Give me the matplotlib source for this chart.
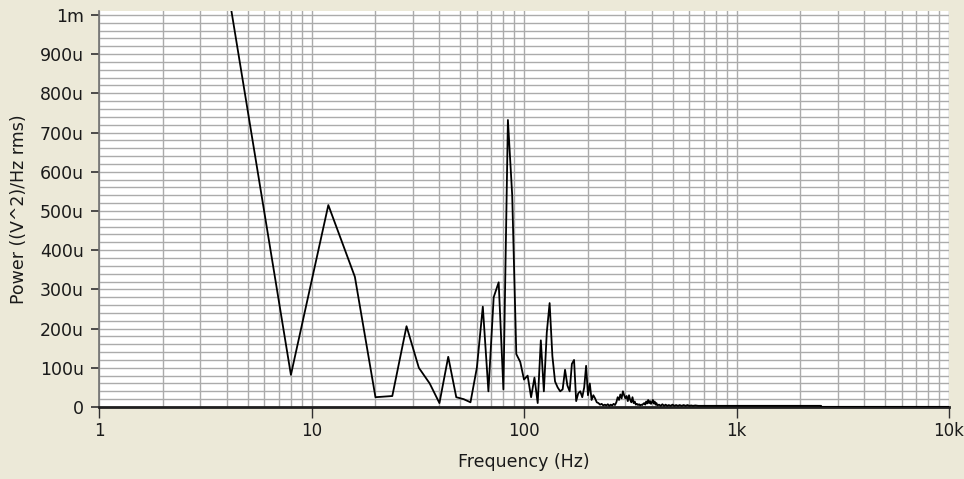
import matplotlib
matplotlib.use("Agg")
import matplotlib.pyplot as plt
from matplotlib.ticker import FixedLocator, LogLocator, NullFormatter

# ---- data (power in micro-units, V^2/Hz rms) ----
freq_low = [4, 8, 12, 16, 20, 24, 28, 32, 36, 40, 44, 48, 52, 56, 60, 64, 68, 72,
            76, 80, 84, 88, 92, 96, 100, 104, 108, 112, 116, 120, 124, 128, 132,
            136, 140, 144, 148, 152, 156, 160, 164, 168, 172, 176, 180, 184, 188,
            192, 196, 200]
power_low = [1080, 82, 515, 332, 25, 28, 206, 100, 60, 10, 128, 25, 20, 12, 100,
             256, 40, 280, 318, 45, 732, 540, 135, 115, 70, 80, 25, 75, 10, 170,
             40, 190, 265, 130, 65, 50, 40, 45, 95, 55, 40, 110, 120, 15, 35, 40,
             25, 50, 105, 30]

freq_mid = [204, 208, 212, 216, 220, 224, 228, 232, 236, 240, 244, 248, 252, 256,
            260, 264, 268, 272, 276, 280, 284, 288, 292, 296, 300, 304, 308, 312,
            316, 320, 324, 328, 332, 336, 340, 344, 348, 352, 356, 360, 364, 368,
            372, 376, 380, 384, 388, 392, 396, 400, 404, 408, 412, 416, 420, 424,
            432, 440, 448, 456, 464, 472, 480, 490, 500, 510, 520, 530, 540, 552,
            564, 576, 588, 600, 612, 624, 640, 660]
power_mid = [60, 18, 30, 22, 12, 10, 6, 8, 4, 6, 4, 7, 3, 6, 4, 8, 5, 12, 25, 18,
             32, 22, 40, 30, 22, 28, 15, 30, 18, 12, 25, 10, 14, 6, 8, 5, 7, 4, 6,
             5, 8, 10, 6, 14, 9, 18, 10, 15, 8, 12, 18, 9, 14, 6, 10, 4,
             6, 3, 7, 3, 6, 3, 5, 3, 6, 3, 5, 3, 5, 3, 5, 3, 5, 3, 4, 3, 4, 3]

freq_tail = [700, 1000, 2500, 2510, 10000]
power_tail = [3, 3, 3, 0.4, 0.4]

ytick_values = [0, 100, 200, 300, 400, 500, 600, 700, 800, 900, 1000]
ytick_labels = ["0", "100u", "200u", "300u", "400u", "500u", "600u", "700u",
                "800u", "900u", "1m"]
xtick_values = [1, 10, 100, 1000, 10000]
xtick_labels = ["1", "10", "100", "1k", "10k"]

freq = freq_low + freq_mid + freq_tail
power = power_low + power_mid + power_tail

# ---- figure ----
bg = "#ECE9D8"
grid_c = "#ABABAB"
txt_c = "#1a1a1a"
fig = plt.figure(figsize=(9.64, 4.79), dpi=100, facecolor=bg)
W, H = 964, 479
left, right, top, bottom = 99, 949, 11, 407
ax = fig.add_axes([left / W, (H - bottom) / H, (right - left) / W, (bottom - top) / H])
ax.set_facecolor("white")

ax.plot(freq, power, color="black", lw=1.3, zorder=3, clip_on=True)

ax.set_xscale("log")
ax.set_xlim(1, 10000)
ax.set_ylim(0, 1010)

ax.xaxis.set_major_locator(FixedLocator(xtick_values))
ax.set_xticklabels(xtick_labels)
ax.xaxis.set_minor_locator(LogLocator(base=10, subs=range(2, 10), numticks=20))
ax.xaxis.set_minor_formatter(NullFormatter())

ax.yaxis.set_major_locator(FixedLocator(ytick_values))
ax.set_yticklabels(ytick_labels)
ax.yaxis.set_minor_locator(FixedLocator(list(range(0, 1001, 20))))

ax.grid(which="both", color=grid_c, lw=1.0, zorder=0)
ax.set_axisbelow(True)

for s in ["top", "right"]:
    ax.spines[s].set_visible(False)
ax.spines["left"].set_color("#707070")
ax.spines["left"].set_linewidth(1.2)
ax.spines["bottom"].set_color("#202020")
ax.spines["bottom"].set_linewidth(2.0)

ax.tick_params(axis="both", which="minor", length=0)
ax.tick_params(axis="y", which="major", direction="out", length=6, width=1.2,
               color="#303030", labelsize=12.5, labelcolor=txt_c, pad=5)
ax.tick_params(axis="x", which="major", direction="out", length=8, width=1.0,
               color="#303030", labelsize=12, labelcolor=txt_c, pad=3)

ax.set_xlabel("Frequency (Hz)", fontsize=12.5, color=txt_c, labelpad=9)
ax.set_ylabel("Power ((V^2)/Hz rms)", fontsize=12.5, color=txt_c, labelpad=8)

fig.savefig("out.png", dpi=100, facecolor=bg)
